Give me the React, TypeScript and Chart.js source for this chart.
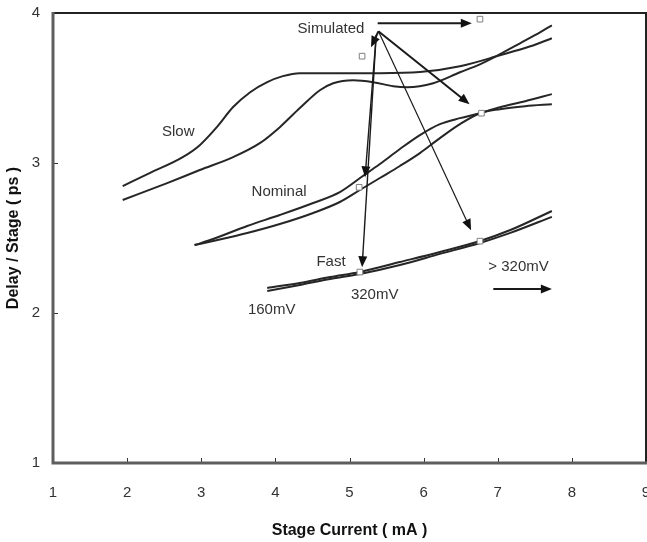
import React, { useEffect, useRef } from 'react';
import { Chart, registerables } from 'chart.js';

Chart.register(...registerables);

const W = 647;
const H = 542;
const CW = 662; // canvas a bit wider than the window so the last tick label is cut like the reference
const FONT = "'Liberation Sans', Arial, sans-serif";

// Axis ranges / ticks
const xTickValues = [1, 2, 3, 4, 5, 6, 7, 8, 9];
const yTickValues = [1, 2, 3, 4];

// Slow curves
const slow1X = [1.94, 2.31, 2.75, 2.98, 3.21, 3.43, 3.66, 3.89, 4.10, 4.33, 4.87, 5.41, 5.95, 6.49, 7.03, 7.44, 7.73];
const slow1Y = [2.846, 2.934, 3.039, 3.119, 3.239, 3.373, 3.472, 3.539, 3.579, 3.599, 3.599, 3.599, 3.606, 3.645, 3.718, 3.778, 3.832];
const slow2X = [1.94, 2.54, 2.98, 3.43, 3.79, 4.06, 4.33, 4.60, 4.78, 5.05, 5.32, 5.59, 5.78, 6.13, 6.49, 6.76, 7.03, 7.30, 7.57, 7.73];
const slow2Y = [2.753, 2.866, 2.953, 3.039, 3.132, 3.239, 3.366, 3.485, 3.532, 3.552, 3.539, 3.512, 3.505, 3.532, 3.605, 3.658, 3.725, 3.798, 3.871, 3.918];

// Nominal curves
const nom1X = [2.91, 3.16, 3.62, 4.06, 4.51, 4.87, 5.18, 5.41, 5.68, 5.95, 6.22, 6.49, 6.76, 7.03, 7.37, 7.73];
const nom1Y = [2.453, 2.493, 2.580, 2.653, 2.733, 2.806, 2.913, 2.993, 3.093, 3.186, 3.259, 3.299, 3.332, 3.372, 3.412, 3.459];
const nom2X = [2.91, 3.16, 3.62, 4.06, 4.51, 4.87, 5.14, 5.41, 5.68, 5.95, 6.22, 6.49, 6.76, 7.03, 7.37, 7.73];
const nom2Y = [2.453, 2.480, 2.533, 2.593, 2.667, 2.740, 2.820, 2.900, 2.980, 3.066, 3.166, 3.259, 3.332, 3.359, 3.379, 3.392];

// Fast curves
const fast1X = [3.89, 4.33, 4.74, 5.14, 5.68, 6.22, 6.76, 7.17, 7.73];
const fast1Y = [2.167, 2.200, 2.240, 2.274, 2.340, 2.407, 2.480, 2.553, 2.680];
const fast2X = [3.89, 4.33, 4.74, 5.14, 5.68, 6.22, 6.76, 7.17, 7.73];
const fast2Y = [2.147, 2.187, 2.227, 2.260, 2.320, 2.394, 2.467, 2.534, 2.641];

// Simulated points (open squares)
const simX = [6.76, 5.17, 5.13, 5.14, 6.78, 6.76];
const simY = [3.959, 3.712, 2.838, 2.273, 3.332, 2.479];

// Arrows (data units)
const arrowX0 = [5.38, 5.39, 5.36, 5.36, 5.39, 5.39, 6.94];
const arrowY0 = [3.931, 3.878, 3.850, 3.850, 3.878, 3.878, 2.160];
const arrowX1 = [6.65, 5.29, 5.21, 5.17, 6.62, 6.64, 7.73];
const arrowY1 = [3.931, 3.772, 2.905, 2.305, 3.392, 2.552, 2.160];
const arrowW = [2, 2, 1.4, 1.4, 2, 1.2, 2];

// Text annotations (data units)
const noteText = ['Simulated', 'Slow', 'Nominal', 'Fast', '320mV', '160mV', '> 320mV'];
const noteX = [4.75, 2.69, 4.05, 4.75, 5.34, 3.95, 7.28];
const noteY = [3.891, 3.206, 2.806, 2.340, 2.120, 2.020, 2.307];

const pts = (xs: number[], ys: number[]) => xs.map((x, i) => ({ x, y: ys[i] }));

export default function App() {
  const ref = useRef<HTMLCanvasElement>(null);

  useEffect(() => {
    const canvas = ref.current;
    if (!canvas) return;

    const curve = (xs: number[], ys: number[]) => ({
      data: pts(xs, ys),
      showLine: true,
      borderColor: '#262626',
      borderWidth: 2,
      pointRadius: 0,
      cubicInterpolationMode: 'monotone' as const,
      fill: false,
    });

    const overlay = {
      id: 'overlay',
      afterDatasetsDraw(chart: any) {
        const { ctx, scales } = chart;
        const xs = scales.x;
        const ys = scales.y;
        ctx.save();
        for (let i = 0; i < arrowX0.length; i++) {
          const x0 = xs.getPixelForValue(arrowX0[i]);
          const y0 = ys.getPixelForValue(arrowY0[i]);
          const x1 = xs.getPixelForValue(arrowX1[i]);
          const y1 = ys.getPixelForValue(arrowY1[i]);
          const ang = Math.atan2(y1 - y0, x1 - x0);
          const hl = 11;
          const hw = 4.5;
          ctx.strokeStyle = '#1a1a1a';
          ctx.fillStyle = '#111';
          ctx.lineWidth = arrowW[i];
          ctx.beginPath();
          ctx.moveTo(x0, y0);
          ctx.lineTo(x1 - Math.cos(ang) * hl * 0.8, y1 - Math.sin(ang) * hl * 0.8);
          ctx.stroke();
          ctx.beginPath();
          ctx.moveTo(x1, y1);
          ctx.lineTo(x1 - Math.cos(ang) * hl + Math.sin(ang) * hw, y1 - Math.sin(ang) * hl - Math.cos(ang) * hw);
          ctx.lineTo(x1 - Math.cos(ang) * hl - Math.sin(ang) * hw, y1 - Math.sin(ang) * hl + Math.cos(ang) * hw);
          ctx.closePath();
          ctx.fill();
        }
        ctx.font = `15px ${FONT}`;
        ctx.fillStyle = '#333';
        ctx.textAlign = 'center';
        ctx.textBaseline = 'middle';
        for (let i = 0; i < noteText.length; i++) {
          ctx.fillText(noteText[i], xs.getPixelForValue(noteX[i]), ys.getPixelForValue(noteY[i]));
        }
        ctx.restore();
      },
      afterDraw(chart: any) {
        const { ctx, chartArea: a, scales } = chart;
        ctx.save();
        ctx.strokeStyle = '#333';
        ctx.lineWidth = 1;
        for (const v of xTickValues) {
          if (v <= 1 || v >= 9) continue;
          const px = Math.round(scales.x.getPixelForValue(v)) + 0.5;
          ctx.beginPath();
          ctx.moveTo(px, a.bottom);
          ctx.lineTo(px, a.bottom - 5);
          ctx.stroke();
        }
        for (const v of yTickValues) {
          if (v <= 1 || v >= 4) continue;
          const py = Math.round(scales.y.getPixelForValue(v)) + 0.5;
          ctx.beginPath();
          ctx.moveTo(a.left, py);
          ctx.lineTo(a.left + 5, py);
          ctx.stroke();
        }
        ctx.strokeStyle = '#222';
        ctx.lineWidth = 2;
        ctx.beginPath();
        ctx.moveTo(a.left, a.top);
        ctx.lineTo(a.right, a.top);
        ctx.lineTo(a.right, a.bottom);
        ctx.stroke();
        ctx.strokeStyle = '#5e5e5e';
        ctx.lineWidth = 3;
        ctx.beginPath();
        ctx.moveTo(a.left, a.top - 1);
        ctx.lineTo(a.left, a.bottom);
        ctx.lineTo(a.right + 1, a.bottom);
        ctx.stroke();
        ctx.restore();
      },
    };

    const chart = new Chart(canvas, {
      type: 'scatter',
      data: {
        datasets: [
          {
            data: pts(simX, simY),
            showLine: false,
            pointStyle: 'rect',
            pointRadius: 4,
            pointBackgroundColor: '#ffffff',
            pointBorderColor: '#808080',
            pointBorderWidth: 1,
          } as any,
          curve(slow1X, slow1Y),
          curve(slow2X, slow2Y),
          curve(nom1X, nom1Y),
          curve(nom2X, nom2Y),
          curve(fast1X, fast1Y),
          curve(fast2X, fast2Y),
        ],
      },
      options: {
        responsive: false,
        animation: false,
        devicePixelRatio: 1,
        layout: { padding: { top: 13, right: CW - 646, left: 0, bottom: 0 } },
        plugins: {
          legend: { display: false },
          tooltip: { enabled: false },
        },
        scales: {
          x: {
            type: 'linear',
            min: 1,
            max: 9,
            grid: { display: false, drawTicks: false },
            border: { display: false },
            ticks: {
              stepSize: 1,
              padding: 21,
              color: '#333',
              font: { family: FONT, size: 15 },
              maxRotation: 0,
            },
            title: {
              display: true,
              text: 'Stage Current ( mA )',
              color: '#111',
              font: { family: FONT, size: 16, weight: 'bold' },
              padding: { top: 0, bottom: 2 },
            },
            afterFit(scale: any) {
              scale.height = 79;
              scale.paddingLeft = 0;
              scale.paddingRight = 0;
            },
          },
          y: {
            type: 'linear',
            min: 1,
            max: 4,
            grid: { display: false, drawTicks: false },
            border: { display: false },
            ticks: {
              stepSize: 1,
              padding: 13,
              color: '#333',
              font: { family: FONT, size: 15 },
            },
            title: {
              display: true,
              text: 'Delay / Stage ( ps )',
              color: '#111',
              font: { family: FONT, size: 16, weight: 'bold' },
              padding: { top: 4, bottom: 0 },
            },
            afterFit(scale: any) {
              scale.width = 53;
              scale.paddingTop = 0;
              scale.paddingBottom = 0;
            },
          },
        },
      },
      plugins: [overlay],
    } as any);

    return () => chart.destroy();
  }, []);

  return (
    <div style={{ position: 'absolute', left: 0, top: 0, width: W, height: H, overflow: 'hidden', background: '#fff' }}>
      <canvas ref={ref} width={CW} height={H} style={{ display: 'block', width: CW, height: H }} />
    </div>
  );
}
